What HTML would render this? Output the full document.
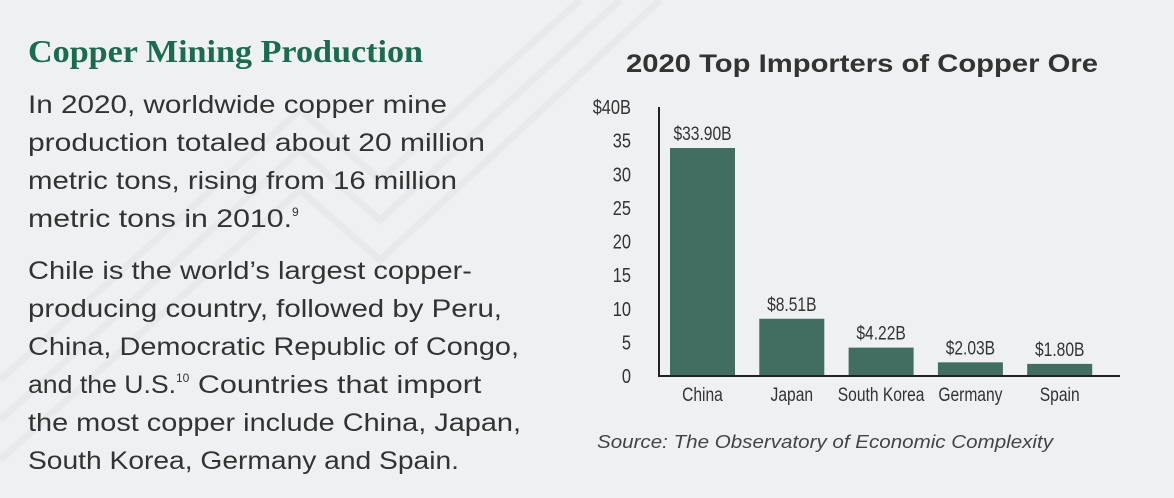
<!DOCTYPE html>
<html><head><meta charset="utf-8">
<style>
html,body{margin:0;padding:0;}
body{width:1174px;height:498px;background:#eff0f2;overflow:hidden;position:relative;font-family:"Liberation Sans",sans-serif;}
svg{position:absolute;left:0;top:0;}
</style></head>
<body>
<svg width="1174" height="498">
  <g stroke="#e7e9ea" stroke-width="7" fill="none">
    <path d="M0 420 L300 150 L380 220 L620 0"/>
    <path d="M0 380 L300 110 L380 180 L580 0"/>
    <path d="M0 460 L300 190 L380 260 L660 0"/>
  </g>
  <text x="28" y="62" textLength="395" lengthAdjust="spacingAndGlyphs" font-family="Liberation Serif, serif" font-weight="bold" font-size="32" fill="#1a6b4f">Copper Mining Production</text>
  <g font-family="Liberation Sans, sans-serif" font-size="25" fill="#333" lengthAdjust="spacingAndGlyphs">
    <text x="28" y="113" textLength="419" lengthAdjust="spacingAndGlyphs">In 2020, worldwide copper mine</text>
    <text x="28" y="151" textLength="457" lengthAdjust="spacingAndGlyphs">production totaled about 20 million</text>
    <text x="28" y="189" textLength="429" lengthAdjust="spacingAndGlyphs">metric tons, rising from 16 million</text>
    <text x="28" y="227"><tspan textLength="264" lengthAdjust="spacingAndGlyphs">metric tons in 2010.</tspan><tspan font-size="12" dy="-11">9</tspan></text>
    <text x="28" y="279" textLength="444" lengthAdjust="spacingAndGlyphs">Chile is the world’s largest copper-</text>
    <text x="28" y="317" textLength="474" lengthAdjust="spacingAndGlyphs">producing country, followed by Peru,</text>
    <text x="28" y="355" textLength="491" lengthAdjust="spacingAndGlyphs">China, Democratic Republic of Congo,</text>
    <text x="28" y="393"><tspan textLength="148" lengthAdjust="spacingAndGlyphs">and the U.S.</tspan><tspan font-size="12" dy="-11">10</tspan><tspan dy="11" textLength="292" lengthAdjust="spacingAndGlyphs"> Countries that import</tspan></text>
    <text x="28" y="431" textLength="493" lengthAdjust="spacingAndGlyphs">the most copper include China, Japan,</text>
    <text x="28" y="469" textLength="431" lengthAdjust="spacingAndGlyphs">South Korea, Germany and Spain.</text>
  </g>
  <text x="626" y="72" textLength="472" lengthAdjust="spacingAndGlyphs" font-weight="bold" font-size="25" fill="#333">2020 Top Importers of Copper Ore</text>
  <g id="chart" font-family="Liberation Sans Narrow, Liberation Sans, sans-serif"></g>
  <text x="597" y="448" textLength="456" lengthAdjust="spacingAndGlyphs" font-style="italic" font-size="18" fill="#444">Source: The Observatory of Economic Complexity</text>
</svg>
<script>
const categories = ["China","Japan","South Korea","Germany","Spain"];
const values = [33.90, 8.51, 4.22, 2.03, 1.80];
const valueLabels = ["$33.90B","$8.51B","$4.22B","$2.03B","$1.80B"];
const ticks = [0,5,10,15,20,25,30,35,40];
const tickLabels = ["0","5","10","15","20","25","30","35","$40B"];

const NS = "http://www.w3.org/2000/svg";
const g = document.getElementById("chart");
const y0 = 376, y40 = 107, xAxis = 659, xEnd = 1120;
const yScale = v => y0 - (v/40)*(y0-y40);
const band = 89.3, firstX = 670, barW = 65;
const xScale = i => firstX + i*band;
function mk(tag, attrs){const e=document.createElementNS(NS,tag);for(const k in attrs)e.setAttribute(k,attrs[k]);g.appendChild(e);return e;}
function narrow(e){const w=e.getComputedTextLength();e.setAttribute("textLength",(w*0.82).toFixed(1));e.setAttribute("lengthAdjust","spacingAndGlyphs");}

ticks.forEach((t,i)=>{
  const e = mk("text",{x:631,y:yScale(t)+7,"text-anchor":"end","font-size":"20",fill:"#333"});
  e.textContent = tickLabels[i];
  
  
  narrow(e);
});
values.forEach((v,i)=>{
  const r = mk("rect",{x:xScale(i),y:yScale(v),width:barW,height:y0-yScale(v),fill:"#416e60"});
  
  
  const l = mk("text",{x:xScale(i)+barW/2,y:yScale(v)-8,"text-anchor":"middle","font-size":"19",fill:"#333"});
  l.textContent = valueLabels[i];
  
  
  narrow(l);
  const c = mk("text",{x:xScale(i)+barW/2,y:401,"text-anchor":"middle","font-size":"19",fill:"#333"});
  c.textContent = categories[i];
  
  
  narrow(c);
});
const ya = mk("line",{x1:xAxis,y1:107,x2:xAxis,y2:y0+1,stroke:"#222","stroke-width":2});


const xa = mk("line",{x1:xAxis-1,y1:y0,x2:xEnd,y2:y0,stroke:"#222","stroke-width":2});


</script>
</body></html>
